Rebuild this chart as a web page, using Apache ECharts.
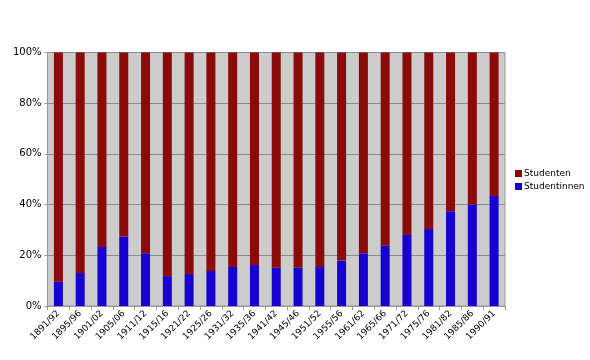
<!DOCTYPE html>
<html>
<head>
<meta charset="utf-8">
<script src="https://cdn.jsdelivr.net/npm/echarts@6/dist/echarts.min.js"></script>
<style>
html,body{margin:0;padding:0;background:#fff;}
#chart{width:590px;height:360px;}
</style>
</head>
<body>
<div id="chart"></div>
<script>
var categories = ['1891/92','1895/96','1901/02','1905/06','1911/12','1915/16','1921/22','1925/26','1931/32','1935/36','1941/42','1945/46','1951/52','1955/56','1961/62','1965/66','1971/72','1975/76','1981/82','1985/86','1990/91'];
var studentinnen = [9.6, 13.0, 23.3, 27.4, 20.8, 11.8, 12.6, 13.8, 15.4, 16.2, 15.1, 15.1, 15.4, 17.9, 20.8, 23.9, 28.0, 30.4, 37.4, 40.0, 43.4];
var studenten = [90.4, 87.0, 76.7, 72.6, 79.2, 88.2, 87.4, 86.2, 84.6, 83.8, 84.9, 84.9, 84.6, 82.1, 79.2, 76.1, 72.0, 69.6, 62.6, 60.0, 56.6];
var yTicks = [0, 20, 40, 60, 80, 100];

var font = 'Verdana, "DejaVu Sans", sans-serif';
var chart = echarts.init(document.getElementById('chart'));
chart.setOption({
  animation: false,
  backgroundColor: '#ffffff',
  grid: {left: 47.5, top: 52.5, right: 85, bottom: 54, show: true, backgroundColor: '#cccccc', borderColor: '#999999', borderWidth: 1},
  legend: {
    orient: 'vertical', left: 510, top: 164,
    itemWidth: 7, itemHeight: 7, itemGap: 4,
    icon: 'rect',
    textStyle: {fontFamily: font, fontSize: 9, color: '#000', padding: [0,0,0,-3]},
    data: ['Studenten', 'Studentinnen']
  },
  xAxis: {
    type: 'category', data: categories,
    axisLine: {lineStyle: {color: '#999999'}},
    axisTick: {show: true, length: 4, lineStyle: {color: '#999999'}},
    axisLabel: {rotate: 45, interval: 0, fontFamily: font, fontSize: 9, color: '#000', margin: 6}
  },
  yAxis: {
    type: 'value', min: yTicks[0], max: yTicks[yTicks.length-1], interval: 20,
    axisLine: {show: true, lineStyle: {color: '#999999'}},
    axisTick: {show: true, length: 3, lineStyle: {color: '#999999'}},
    splitLine: {lineStyle: {color: '#8c8c8c'}},
    axisLabel: {formatter: '{value}%', fontFamily: font, fontSize: 10, color: '#000', margin: 6}
  },
  series: [
    {name: 'Studentinnen', type: 'bar', stack: 's', data: studentinnen, barWidth: 9, itemStyle: {color: '#1700d2'}},
    {name: 'Studenten', type: 'bar', stack: 's', data: studenten, barWidth: 9, itemStyle: {color: '#8b0b0b'}}
  ]
});
</script>
</body>
</html>
